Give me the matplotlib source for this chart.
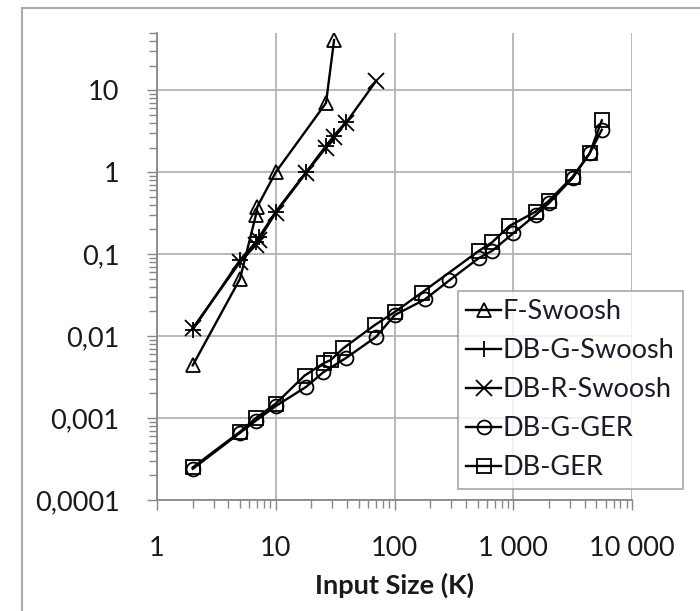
import matplotlib
matplotlib.use("Agg")
import matplotlib.pyplot as plt
from matplotlib.lines import Line2D
from matplotlib.ticker import LogLocator, NullFormatter

plt.rcParams['font.family'] = ['Lato', 'DejaVu Sans']

# data (input size in K, time)
f_sw_x = [2, 5, 6.8, 7.0, 10, 26.5, 31]
f_sw_y = [0.0044, 0.05, 0.3, 0.38, 1.0, 7.0, 41]

dbg_sw_x = [2, 5, 6.8, 7.2, 10, 18, 26.5, 31, 39]
dbg_sw_y = [0.012, 0.085, 0.14, 0.16, 0.33, 1.0, 2.1, 2.8, 4.1]

dbr_sw_x = [2, 5, 6.8, 7.2, 10, 18, 26.5, 31, 39, 70]
dbr_sw_y = [0.0125, 0.08, 0.13, 0.15, 0.32, 0.98, 2.0, 2.7, 4.0, 13]

dbg_ger_x = [2, 5, 6.8, 10, 18, 25, 39, 70, 100, 180, 290, 515, 665, 1000,
             1540, 2000, 3160, 4400, 5570]
dbg_ger_y = [0.00024, 0.00066, 0.00093, 0.0014, 0.0024, 0.0036, 0.0054,
             0.0098, 0.018, 0.028, 0.048, 0.09, 0.11, 0.18, 0.3, 0.42, 0.85,
             1.7, 3.3]

db_ger_x = [2, 5, 6.8, 10, 17.5, 25.5, 29, 37, 68, 100, 170, 515, 665, 925,
            1540, 2000, 3160, 4400, 5570]
db_ger_y = [0.00025, 0.00068, 0.001, 0.0015, 0.0033, 0.0047, 0.0051, 0.0071,
            0.0136, 0.0196, 0.034, 0.11, 0.14, 0.22, 0.33, 0.45, 0.88, 1.7,
            4.3]

series = [
    ("F-Swoosh", f_sw_x, f_sw_y, "^"),
    ("DB-G-Swoosh", dbg_sw_x, dbg_sw_y, "+"),
    ("DB-R-Swoosh", dbr_sw_x, dbr_sw_y, "x"),
    ("DB-G-GER", dbg_ger_x, dbg_ger_y, "o"),
    ("DB-GER", db_ger_x, db_ger_y, "s"),
]

x_ticks = [1, 10, 100, 1000, 10000]
x_labels = ["1", "10", "100", "1 000", "10 000"]
y_ticks = [0.0001, 0.001, 0.01, 0.1, 1, 10]
y_labels = ["0,0001", "0,001", "0,01", "0,1", "1", "10"]

fig = plt.figure(figsize=(7, 6.11), dpi=100)
ax = fig.add_axes([157 / 700, 1 - 500 / 611, 475 / 700, 467 / 611])

for name, xs, ys, m in series:
    ms = 11.5 if m in "+x" else 10
    ax.plot(xs, ys, color="black", lw=1.7, marker=m, ms=ms,
            mfc="none", mec="black", mew=1.3, label=name)

ax.set_xscale("log")
ax.set_yscale("log")
ax.set_xlim(1, 10000)
ax.set_ylim(0.0001, 50)

ax.set_xticks(x_ticks)
ax.set_xticklabels(x_labels)
ax.set_yticks(y_ticks)
ax.set_yticklabels(y_labels)
ax.xaxis.set_minor_locator(LogLocator(base=10, subs=range(2, 10), numticks=20))
ax.yaxis.set_minor_locator(LogLocator(base=10, subs=range(2, 10), numticks=20))
ax.xaxis.set_minor_formatter(NullFormatter())
ax.yaxis.set_minor_formatter(NullFormatter())

ax.grid(True, which="major", color="#b4b4b4", lw=1.3)
ax.set_axisbelow(True)
for s in ["top", "right"]:
    ax.spines[s].set_visible(False)
for s in ["left", "bottom"]:
    ax.spines[s].set_color("#888888")
    ax.spines[s].set_linewidth(1.3)

ax.tick_params(which="both", direction="out", color="#888888", width=1.0,
               labelsize=19.5, labelcolor="#1a1a1a")
ax.tick_params(which="major", length=7)
ax.tick_params(which="minor", length=6)
ax.yaxis.set_tick_params(which="major", pad=20)
ax.xaxis.set_tick_params(which="major", pad=19)

ax.set_xlabel("Input Size (K)", fontsize=19.5, fontweight="bold",
              color="#1a1a1a", labelpad=8)

leg = ax.legend(loc="upper left", bbox_to_anchor=(458 / 700, 1 - 291 / 611),
                bbox_transform=fig.transFigure, fontsize=19.5, frameon=True,
                fancybox=False, edgecolor="#999999", handlelength=1.3,
                handletextpad=0.05, labelspacing=0.52, borderpad=0.3,
                borderaxespad=0)
leg.get_frame().set_linewidth(1.3)
for t in leg.get_texts():
    t.set_color("#1a1a2a")

# outer chart frame
fig.add_artist(Line2D([22 / 700, 22 / 700], [0, 1 - 8 / 611],
                      transform=fig.transFigure, color="#aaaaaa", lw=1.5))
fig.add_artist(Line2D([22 / 700, 1], [1 - 8 / 611, 1 - 8 / 611],
                      transform=fig.transFigure, color="#aaaaaa", lw=1.5))

fig.savefig("out.png", dpi=100)
